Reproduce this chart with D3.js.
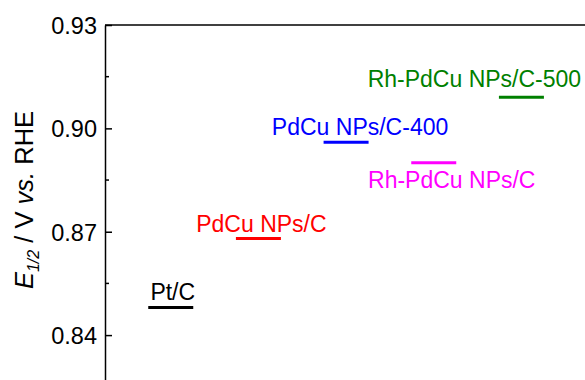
<!DOCTYPE html>
<html>
<head>
<meta charset="utf-8">
<script src="https://cdn.jsdelivr.net/npm/d3@7/dist/d3.min.js"></script>
<style>
  html, body { margin: 0; padding: 0; background: #ffffff; }
  svg { display: block; font-family: Arial, "Liberation Sans", sans-serif; }
</style>
</head>
<body>
<svg id="chart" width="585" height="380"></svg>
<script>
// Half-wave potentials (V vs. RHE) for each catalyst
const catalysts = ["Pt/C", "PdCu NPs/C", "PdCu NPs/C-400", "Rh-PdCu NPs/C", "Rh-PdCu NPs/C-500"];
const positions = [1, 2, 3, 4, 5];
const halfWave = [0.848, 0.868, 0.896, 0.890, 0.909];
const colors = ["#000000", "#ff0000", "#0000ff", "#ff00ff", "#008000"];
const yTicks = [0.84, 0.87, 0.90, 0.93];
const yMinorTicks = [0.855, 0.885, 0.915];

// Label placement relative to each marker (pixels): horizontal shift and baseline offset
const labelLayout = [
  { dx: 2, dy: -8 },
  { dx: 3, dy: -7 },
  { dx: 14, dy: -7 },
  { dx: 18, dy: 25 },
  { dx: -47, dy: -10 }
];

const svg = d3.select("#chart");

const x = d3.scaleLinear().domain([0.25, 6.25]).range([105, 631]);
const y = d3.scaleLinear().domain([0.82, 0.93]).range([404, 25]);

const segHalf = 22.5;

// Frame: top border line
svg.append("line")
  .attr("x1", x(0.25)).attr("x2", x(6.25))
  .attr("y1", y(0.93)).attr("y2", y(0.93))
  .attr("stroke", "#000").attr("stroke-width", 1.5);

const yAxis = d3.axisLeft(y)
  .tickValues(yTicks)
  .tickFormat(d3.format(".2f"))
  .tickSizeInner(-7)
  .tickSizeOuter(0)
  .tickPadding(8);

const gy = svg.append("g")
  .attr("transform", `translate(${x(0.25)},0)`)
  .call(yAxis);
gy.select(".domain").attr("stroke-width", 1.5);
gy.selectAll(".tick line").attr("stroke-width", 1.5);
gy.selectAll(".tick text")
  .attr("font-size", 23.5)
  .attr("fill", "#000")
  .attr("x", -8)
  .attr("dy", "0.36em");

// Minor ticks
svg.append("g")
  .selectAll("line")
  .data(yMinorTicks)
  .join("line")
  .attr("x1", x(0.25)).attr("x2", x(0.25) + 4)
  .attr("y1", d => y(d)).attr("y2", d => y(d))
  .attr("stroke", "#000").attr("stroke-width", 1.5);

// Y axis title
const title = svg.append("text")
  .attr("transform", `translate(33,200) rotate(-90)`)
  .attr("text-anchor", "middle")
  .attr("font-size", 25.5)
  .attr("fill", "#000");
title.append("tspan").attr("font-style", "italic").text("E");
title.append("tspan").attr("font-style", "italic").attr("font-size", 16).attr("dy", 6).text("1/2");
title.append("tspan").attr("dy", -6).text(" / V ");
title.append("tspan").attr("font-style", "italic").text("vs.");
title.append("tspan").text(" RHE");

// Marker segments
const rows = catalysts.map((c, i) => ({
  name: c, pos: positions[i], value: halfWave[i], color: colors[i], layout: labelLayout[i]
}));

svg.append("g")
  .selectAll("line")
  .data(rows)
  .join("line")
  .attr("x1", d => x(d.pos) - segHalf)
  .attr("x2", d => x(d.pos) + segHalf)
  .attr("y1", d => y(d.value))
  .attr("y2", d => y(d.value))
  .attr("stroke", d => d.color)
  .attr("stroke-width", 3);

svg.append("g")
  .selectAll("text")
  .data(rows)
  .join("text")
  .attr("x", d => x(d.pos) + d.layout.dx)
  .attr("y", d => y(d.value) + d.layout.dy)
  .attr("text-anchor", "middle")
  .attr("font-size", 23)
  .attr("fill", d => d.color)
  .text(d => d.name);
</script>
</body>
</html>
